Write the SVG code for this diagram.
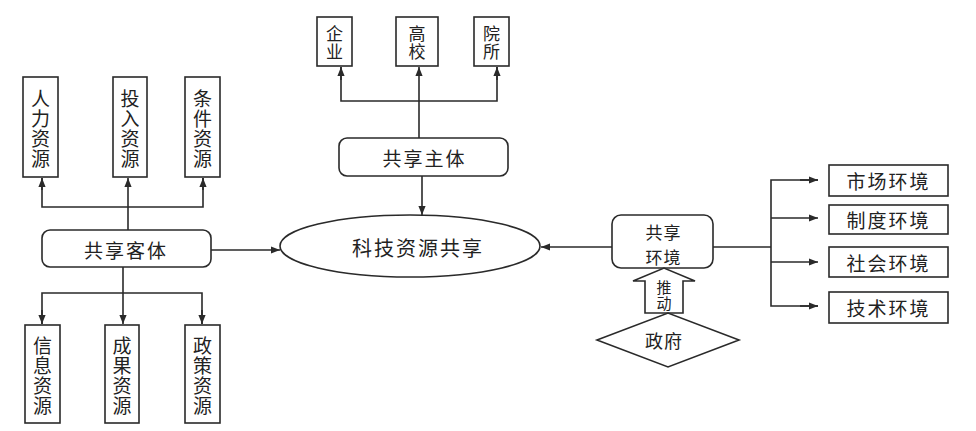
<svg xmlns="http://www.w3.org/2000/svg" width="976" height="431" viewBox="0 0 976 431">
<defs>
<style>
.box{fill:#fff;stroke:#2a2a2a;stroke-width:1.6}
.ln{fill:none;stroke:#2a2a2a;stroke-width:1.6}
.t{font-family:"Noto Sans CJK SC","Noto Sans CJK JP",sans-serif;fill:#222;text-anchor:middle;dominant-baseline:central}
.v{font-size:19px;writing-mode:vertical-rl;letter-spacing:1px}
.v2{font-size:17px;writing-mode:vertical-rl;letter-spacing:1px}
.h{font-size:19px;letter-spacing:2px}
</style>
<marker id="ah" viewBox="0 0 10 8" refX="10" refY="4" markerWidth="9" markerHeight="8" markerUnits="userSpaceOnUse" orient="auto">
<path d="M0,0 L10,4 L0,8 z" fill="#2a2a2a"/>
</marker>
</defs>
<rect width="976" height="431" fill="#fff"/>

<g id="connectors">
<path class="ln" d="M128,230 V178" marker-end="url(#ah)"/>
<path class="ln" d="M42,178 V207 H203 V178"/>
<path class="ln" d="M42,190 V178" marker-end="url(#ah)"/>
<path class="ln" d="M203,190 V178" marker-end="url(#ah)"/>
<path class="ln" d="M123,267 V324" marker-end="url(#ah)"/>
<path class="ln" d="M42,324 V293 H202 V324"/>
<path class="ln" d="M42,310 V324" marker-end="url(#ah)"/>
<path class="ln" d="M202,310 V324" marker-end="url(#ah)"/>
<path class="ln" d="M211,250 H280" marker-end="url(#ah)"/>
<path class="ln" d="M419,138 V67" marker-end="url(#ah)"/>
<path class="ln" d="M341,67 V101 H497 V67"/>
<path class="ln" d="M341,80 V67" marker-end="url(#ah)"/>
<path class="ln" d="M497,80 V67" marker-end="url(#ah)"/>
<path class="ln" d="M422,176 V215" marker-end="url(#ah)"/>
<path class="ln" d="M612,247 H541" marker-end="url(#ah)"/>
<path class="ln" d="M713,247 H771"/>
<path class="ln" d="M818,180 H771 V306 H818"/>
<path class="ln" d="M800,180 H818" marker-end="url(#ah)"/>
<path class="ln" d="M771,218 H818" marker-end="url(#ah)"/>
<path class="ln" d="M771,262 H818" marker-end="url(#ah)"/>
<path class="ln" d="M800,306 H818" marker-end="url(#ah)"/>
</g>

<g id="node-renli">
<rect class="box" x="23" y="77" width="35" height="100"/>
<text class="t v" x="40.5" y="129">人力资源</text>
</g>
<g id="node-touru">
<rect class="box" x="113" y="77" width="34" height="100"/>
<text class="t v" x="130" y="129">投入资源</text>
</g>
<g id="node-tiaojian">
<rect class="box" x="185" y="77" width="35" height="100"/>
<text class="t v" x="202.5" y="129">条件资源</text>
</g>

<g id="node-keti">
<rect class="box" x="42" y="230" width="169" height="37" rx="8"/>
<text class="t h" x="126" y="249">共享客体</text>
</g>

<g id="node-xinxi">
<rect class="box" x="25" y="325" width="35" height="98"/>
<text class="t v" x="42.5" y="376.5">信息资源</text>
</g>
<g id="node-chengguo">
<rect class="box" x="105" y="325" width="34" height="98"/>
<text class="t v" x="122" y="376.5">成果资源</text>
</g>
<g id="node-zhengce">
<rect class="box" x="185" y="325" width="35" height="98"/>
<text class="t v" x="202.5" y="376.5">政策资源</text>
</g>

<g id="node-qiye">
<rect class="box" x="317" y="17" width="35" height="49"/>
<text class="t v2" x="334.5" y="43.5">企业</text>
</g>
<g id="node-gaoxiao">
<rect class="box" x="396" y="17" width="42" height="49"/>
<text class="t v2" x="417" y="43.5">高校</text>
</g>
<g id="node-yuansuo">
<rect class="box" x="474" y="17" width="35" height="49"/>
<text class="t v2" x="491.5" y="43.5">院所</text>
</g>

<g id="node-zhuti">
<rect class="box" x="339" y="138" width="169" height="38" rx="8"/>
<text class="t h" x="424.5" y="157">共享主体</text>
</g>

<g id="node-center">
<ellipse class="box" cx="410" cy="246" rx="130" ry="31"/>
<text class="t" x="418" y="247" font-size="20" letter-spacing="2">科技资源共享</text>
</g>

<g id="node-huanjing">
<rect class="box" x="612" y="215" width="101" height="53" rx="9"/>
<text class="t" font-size="17" letter-spacing="1"><tspan x="663.5" y="231">共享</tspan><tspan x="663.5" y="256">环境</tspan></text>
</g>

<g id="node-tuidong">
<polygon class="box" points="645,313 645,281 633,281 664,268 695,281 683,281 683,313"/>
<text class="t" x="664" y="296" font-size="15" letter-spacing="1" style="writing-mode:vertical-rl">推动</text>
</g>

<g id="node-zhengfu">
<polygon class="box" points="597,340 668,313 739,340 668,367"/>
<text class="t" x="664" y="340" font-size="18" letter-spacing="1">政府</text>
</g>

<g id="node-shichang">
<rect class="box" x="829" y="165" width="119" height="31"/>
<text class="t h" x="888.5" y="180.5">市场环境</text>
</g>
<g id="node-zhidu">
<rect class="box" x="829" y="205" width="119" height="29"/>
<text class="t h" x="888.5" y="219.5">制度环境</text>
</g>
<g id="node-shehui">
<rect class="box" x="829" y="247" width="119" height="30"/>
<text class="t h" x="888.5" y="262">社会环境</text>
</g>
<g id="node-jishu">
<rect class="box" x="829" y="292" width="119" height="31"/>
<text class="t h" x="888.5" y="307.5">技术环境</text>
</g>
</svg>
